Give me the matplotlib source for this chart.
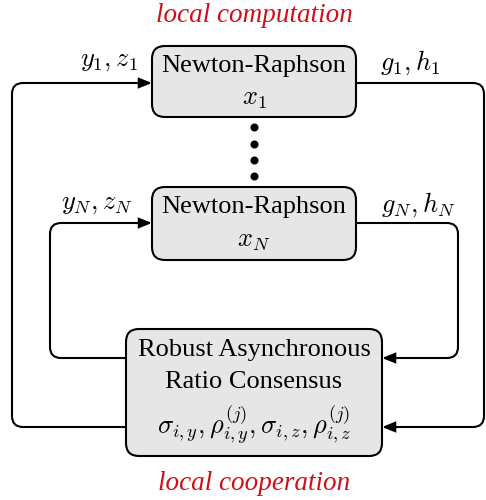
import matplotlib.pyplot as plt
import numpy as np
from matplotlib.patches import FancyBboxPatch, FancyArrowPatch
from matplotlib.path import Path

plt.rcParams['font.family'] = ['Liberation Serif', 'DejaVu Serif']
plt.rcParams['mathtext.fontset'] = 'cm'

# boxes: (x0, y0, x1, y1) in pixel-like coordinates (y down)
box_names = ['nr1', 'nrN', 'rarc']
box_rects = [(152, 46, 356, 117), (152, 187, 356, 260), (126, 329, 382, 456)]

# text inside the boxes
box_lines = [
    [('Newton-Raphson', 66), (r'$x_1$', 100)],
    [('Newton-Raphson', 207), (r'$x_N$', 242)],
    [('Robust Asynchronous', 350), ('Ratio Consensus', 382),
     (r'$\sigma_{i,y},\rho_{i,y}^{(j)},\sigma_{i,z},\rho_{i,z}^{(j)}$', 425)],
]

# signal labels next to the boxes
signal_labels = [r'$y_1,z_1$', r'$g_1,h_1$', r'$y_N,z_N$', r'$g_N,h_N$']
signal_pos = [(109, 62), (410, 63), (97, 205), (418, 205)]

# connection polylines (arrow at the last point)
wires = [
    [(126, 427), (12, 427), (12, 83), (152, 83)],
    [(356, 83), (484, 83), (484, 427), (382, 427)],
    [(126, 358), (50, 358), (50, 223), (152, 223)],
    [(356, 223), (458, 223), (458, 358), (382, 358)],
]

dots_y = [127, 144, 160, 176]

fig = plt.figure(figsize=(4.86, 5.0), dpi=100)
ax = fig.add_axes([0, 0, 1, 1])
ax.set_xlim(0, 486)
ax.set_ylim(500, 0)
ax.axis('off')


def rounded_path(pts, r=11):
    pts = [np.array(p, float) for p in pts]
    verts = [pts[0]]
    codes = [Path.MOVETO]
    for i in range(1, len(pts) - 1):
        p0, p1, p2 = pts[i - 1], pts[i], pts[i + 1]
        d1 = (p1 - p0) / np.linalg.norm(p1 - p0)
        d2 = (p2 - p1) / np.linalg.norm(p2 - p1)
        verts += [p1 - d1 * r, p1, p1 + d2 * r]
        codes += [Path.LINETO, Path.CURVE3, Path.CURVE3]
    verts.append(pts[-1])
    codes.append(Path.LINETO)
    return Path(verts, codes)


for pts in wires:
    arr = FancyArrowPatch(path=rounded_path(pts),
                          arrowstyle='-|>,head_length=0.75,head_width=0.3',
                          mutation_scale=10, lw=1.5, color='black',
                          joinstyle='miter')
    ax.add_patch(arr)

for (x0, y0, x1, y1), lines in zip(box_rects, box_lines):
    box = FancyBboxPatch((x0, y0), x1 - x0, y1 - y0,
                         boxstyle='round,pad=0,rounding_size=13',
                         fc='#e6e6e6', ec='black', lw=1.5, zorder=3)
    ax.add_patch(box)
    cx = (x0 + x1) / 2
    for txt, y in lines:
        ax.text(cx, y, txt, ha='center', va='center', fontsize=19, zorder=4)

for txt, (x, y) in zip(signal_labels, signal_pos):
    ax.text(x, y, txt, ha='center', va='center', fontsize=19)

ax.plot([254] * len(dots_y), dots_y, 'o', color='black', markersize=4.8)

ax.text(254, 15, 'local computation', ha='center', va='center',
        fontsize=19.5, style='italic', color='#d01018')
ax.text(254, 484, 'local cooperation', ha='center', va='center',
        fontsize=19.5, style='italic', color='#d01018')

fig.savefig('out.png', dpi=100)
